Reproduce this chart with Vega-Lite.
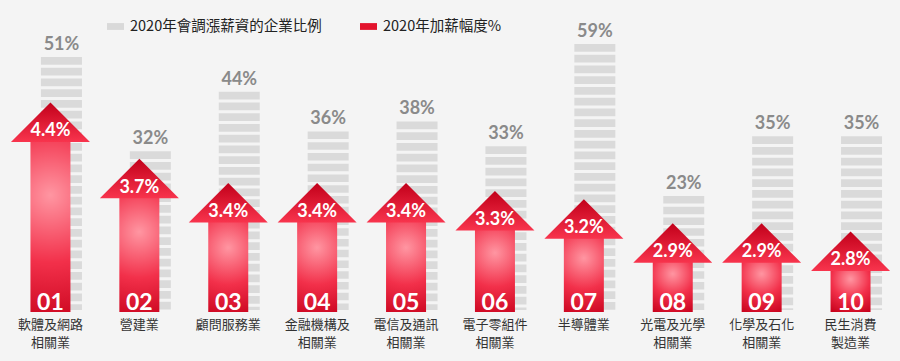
{
  "$schema": "https://vega.github.io/schema/vega-lite/v6.json",
  "width": 889,
  "height": 312,
  "autosize": "none",
  "padding": {"left": 6, "top": 0, "right": 5, "bottom": 49},
  "background": "#f4f4f4",
  "config": {"view": {"stroke": null}, "font": "Lato"},
  "datasets": {
    "rows": [
      {"id": "01", "name": "軟體及網路|相關業", "share": 0.51, "raise": 0.044},
      {"id": "02", "name": "營建業", "share": 0.32, "raise": 0.037},
      {"id": "03", "name": "顧問服務業", "share": 0.44, "raise": 0.034},
      {"id": "04", "name": "金融機構及|相關業", "share": 0.36, "raise": 0.034},
      {"id": "05", "name": "電信及通訊|相關業", "share": 0.38, "raise": 0.034},
      {"id": "06", "name": "電子零組件|相關業", "share": 0.33, "raise": 0.033},
      {"id": "07", "name": "半導體業", "share": 0.59, "raise": 0.032},
      {"id": "08", "name": "光電及光學|相關業", "share": 0.23, "raise": 0.029},
      {"id": "09", "name": "化學及石化|相關業", "share": 0.35, "raise": 0.029},
      {"id": "10", "name": "民生消費|製造業", "share": 0.35, "raise": 0.028}
    ],
    "legend": [
      {"series": "2020年會調漲薪資的企業比例"},
      {"series": "2020年加薪幅度%"}
    ]
  },
  "resolve": {"scale": {"y": "independent"}},
  "layer": [
    {
      "data": {"name": "rows"},
      "encoding": {
        "x": {"field": "name", "type": "nominal", "sort": null,
              "scale": {"paddingInner": 0, "paddingOuter": 0},
              "axis": {"title": null, "domain": false, "ticks": false, "labelAngle": 0,
                       "labelExpr": "split(datum.label, '|')",
                       "labelFont": "Noto Sans CJK TC", "labelFontSize": 13, "labelColor": "#333333",
                       "labelPadding": 6, "labelLineHeight": 18, "labelBaseline": "top"}},
        "y": {"field": "share", "type": "quantitative", "axis": null,
              "scale": {"domain": [0, 0.51, 0.59], "range": [310, 57, 44]}}
      },
      "layer": [
        {
          "mark": {"type": "rule", "xOffset": 11, "strokeWidth": 41, "strokeDash": [7.7, 3.05], "stroke": "#dadada", "strokeCap": "butt"},
          "encoding": {"y2": {"datum": 0}}
        },
        {
          "mark": {"type": "text", "dx": 11, "dy": -7, "baseline": "alphabetic", "align": "center",
                   "fontSize": 18, "fontWeight": "bold", "fill": "#8a8a8a", "font": "Lato"},
          "encoding": {"text": {"field": "share", "format": ".0%"}}
        }
      ]
    },
    {
      "data": {"name": "rows"},
      "encoding": {
        "x": {"field": "name", "type": "nominal", "sort": null},
        "y": {"field": "raise", "type": "quantitative", "axis": null,
              "scale": {"domain": [0.018, 0.0567], "zero": false}}
      },
      "layer": [
        {
          "mark": {"type": "bar", "width": 40, "yOffset": 30,
                   "fill": {"gradient": "radial", "x1": 0.5, "y1": 0.35, "r1": 0, "x2": 0.5, "y2": 0.35, "r2": 0.75,
                            "stops": [{"offset": 0, "color": "#ff96a2"}, {"offset": 0.5, "color": "#f2304a"}, {"offset": 1, "color": "#c6001a"}]}},
          "encoding": {"y2": {"datum": 0.018}}
        },
        {
          "mark": {"type": "point", "shape": "M0,0L-1,1L1,1Z", "size": 6241, "filled": true, "opacity": 1, "strokeWidth": 0,
                   "fill": {"gradient": "linear", "x1": 0, "y1": 0, "x2": 0, "y2": 1,
                            "stops": [{"offset": 0, "color": "#c2001a"}, {"offset": 1, "color": "#f8344d"}]}}
        },
        {
          "mark": {"type": "text", "dy": 29, "baseline": "middle", "align": "center",
                   "fontSize": 18, "fontWeight": "bold", "fill": "#ffffff", "font": "Lato"},
          "encoding": {"text": {"field": "raise", "format": ".1%"}}
        },
        {
          "mark": {"type": "text", "dy": 3, "baseline": "bottom", "align": "center", "clip": true,
                   "fontSize": 23, "fontWeight": "bold", "fill": "#ffffff", "font": "Lato"},
          "encoding": {"text": {"field": "id"}, "y": {"datum": 0.018}}
        }
      ]
    },
    {
      "data": {"name": "legend"},
      "mark": {"type": "point", "filled": true, "opacity": 0},
      "encoding": {
        "color": {"field": "series", "type": "nominal", "sort": null,
                  "scale": {"domain": ["2020年會調漲薪資的企業比例", "2020年加薪幅度%"], "range": ["#d9d9d9", "#e3132c"]},
                  "legend": {"orient": "none", "legendX": 101, "legendY": 18, "direction": "horizontal", "title": null,
                             "symbolType": "M-1,-0.4L1,-0.4L1,0.4L-1,0.4Z", "symbolSize": 289, "symbolOpacity": 1,
                             "symbolStrokeWidth": 0, "labelFont": "Noto Sans CJK TC", "labelFontSize": 14.5,
                             "labelColor": "#222222", "labelOffset": 6, "columnPadding": 38, "padding": 0, "labelLimit": 400}}
      }
    }
  ]
}
